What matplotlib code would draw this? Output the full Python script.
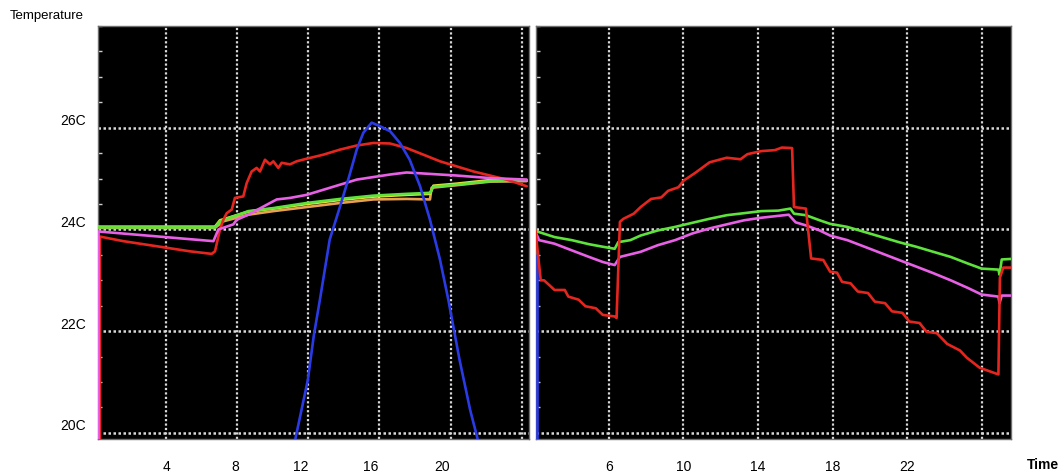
import matplotlib
matplotlib.use("Agg")
import matplotlib.pyplot as plt
from matplotlib.ticker import MultipleLocator
from matplotlib.transforms import ScaledTranslation

plt.rcParams['font.family'] = ['Liberation Sans', 'DejaVu Sans']

# --- left panel (first day), hours / degrees C ---
d1_red_h = [0.28, 0.28, 1.59, 3.47, 5.34, 6.56, 6.75, 7.03, 7.22, 7.41, 7.69, 7.87, 8.34,
            8.53, 8.81, 9.09, 9.28, 9.56, 9.84, 10.03, 10.31, 10.5, 10.97, 11.34, 11.9,
            12.84, 13.78, 14.72, 15.65, 16.59, 17.53, 18.47, 19.4, 20.34, 21.28, 22.22,
            23.15, 24.28]
d1_red_v = [19.5, 23.86, 23.77, 23.67, 23.57, 23.52, 23.57, 24.0, 24.19, 24.32, 24.39, 24.62,
            24.65, 24.91, 25.14, 25.21, 25.14, 25.37, 25.28, 25.34, 25.21, 25.31, 25.28,
            25.34, 25.39, 25.47, 25.57, 25.65, 25.70, 25.69, 25.6, 25.47, 25.34, 25.24,
            25.14, 25.06, 24.98, 24.85]

d1_pink_h = [0.2, 0.2, 6.66, 6.94, 7.78, 7.97, 8.62, 9.47, 10.22, 10.97, 11.9, 12.84, 13.78,
             14.72, 15.65, 16.59, 17.53, 18.47, 20.34, 22.22, 24.28]
d1_pink_v = [19.5, 23.96, 23.77, 24.0, 24.1, 24.19, 24.29, 24.45, 24.59, 24.62, 24.68, 24.78,
             24.88, 24.98, 25.03, 25.08, 25.12, 25.1, 25.06, 25.01, 24.98]

d1_green_h = [0.19, 6.75, 7.03, 8.62, 10.03, 11.9, 13.78, 15.65, 17.53, 18.84, 19.03, 20.34,
              22.22, 24.28]
d1_green_v = [24.04, 24.04, 24.16, 24.36, 24.42, 24.52, 24.6, 24.665, 24.7, 24.72, 24.84,
              24.88, 24.95, 24.96]

d1_yellow_h = [0.19, 6.75, 7.03, 8.62, 10.03, 11.9, 13.78, 15.65, 17.53, 18.84, 19.03, 20.34,
               22.22, 24.28]
d1_yellow_v = [24.055, 24.055, 24.18, 24.35, 24.41, 24.5, 24.58, 24.645, 24.68, 24.70, 24.86,
               24.9, 24.97, 24.97]

d1_orange_h = [0.19, 6.75, 7.22, 8.62, 10.03, 11.9, 13.78, 15.65, 17.53, 18.84, 18.93, 20.34,
               22.22, 24.28]
d1_orange_v = [24.03, 24.03, 24.16, 24.29, 24.36, 24.44, 24.52, 24.59, 24.6, 24.59, 24.82,
               24.87, 24.94, 24.95]

d1_blue_h = [11.1, 11.25, 11.97, 12.3, 12.65, 13.2, 13.78, 14.3, 14.72, 15.09, 15.56, 16.03,
             16.6, 17.15, 17.7, 18.28, 18.84, 19.4, 19.87, 20.5, 21.1, 21.54, 21.7]
d1_blue_v = [19.5, 19.85, 21.04, 21.9, 22.62, 23.8, 24.45, 25.05, 25.57, 25.9, 26.1, 26.03,
             25.93, 25.7, 25.37, 24.85, 24.19, 23.41, 22.62, 21.44, 20.45, 19.85, 19.5]

# --- right panel (second day) ---
d2_red_h = [2.06, 2.34, 2.52, 3.08, 3.63, 3.82, 4.37, 4.74, 5.3, 5.67, 6.3, 6.41, 6.59, 6.78,
            7.33, 7.7, 8.26, 8.81, 9.18, 9.73, 10.01, 10.66, 11.4, 12.32, 13.06, 13.43,
            14.17, 14.91, 15.28, 15.83, 15.93, 16.57, 16.85, 17.5, 17.87, 18.24, 18.51,
            18.97, 19.35, 19.9, 20.27, 20.82, 21.19, 21.75, 22.12, 22.67, 23.04, 23.6,
            24.15, 24.84, 25.2, 25.9, 26.9, 26.98, 27.16, 27.56]
d2_red_v = [23.98, 23.0, 23.0, 22.81, 22.81, 22.68, 22.62, 22.49, 22.45, 22.32, 22.29, 22.26,
            24.15, 24.21, 24.31, 24.44, 24.6, 24.63, 24.76, 24.83, 24.96, 25.12, 25.32,
            25.41, 25.38, 25.48, 25.54, 25.56, 25.61, 25.6, 24.44, 24.41, 23.43, 23.4,
            23.17, 23.15, 22.97, 22.94, 22.78, 22.75, 22.58, 22.55, 22.39, 22.36, 22.19,
            22.16, 21.99, 21.96, 21.75, 21.62, 21.48, 21.28, 21.15, 23.05, 23.25, 23.25]

d2_green_h = [2.06, 3.08, 4.0, 4.93, 5.67, 6.31, 6.5, 7.15, 7.7, 8.62, 9.55, 10.47, 11.4,
              12.32, 13.25, 14.17, 15.09, 15.74, 15.93, 16.57, 17.31, 17.87, 18.79, 19.72,
              20.64, 21.56, 22.49, 23.41, 24.34, 25.26, 26.0, 26.9, 26.96, 27.08, 27.56]
d2_green_v = [23.97, 23.85, 23.79, 23.71, 23.66, 23.62, 23.75, 23.79, 23.88, 23.98, 24.05,
              24.13, 24.21, 24.28, 24.32, 24.36, 24.37, 24.41, 24.31, 24.28, 24.18, 24.11,
              24.05, 23.95, 23.85, 23.75, 23.66, 23.56, 23.46, 23.33, 23.23, 23.21, 23.11,
              23.41, 23.42]

d2_pink_h = [2.06, 2.25, 3.08, 4.0, 4.93, 5.67, 6.31, 6.59, 7.7, 8.62, 9.55, 10.47, 11.4,
             12.32, 13.25, 14.17, 15.65, 16.02, 16.57, 17.31, 17.87, 18.79, 19.72, 20.64,
             21.56, 22.49, 23.41, 24.34, 25.26, 26.0, 26.9, 26.96, 27.08, 27.56]
d2_pink_v = [23.95, 23.79, 23.72, 23.59, 23.46, 23.36, 23.3, 23.46, 23.56, 23.69, 23.79,
             23.92, 24.02, 24.1, 24.18, 24.23, 24.29, 24.14, 24.08, 23.98, 23.88, 23.79,
             23.66, 23.53, 23.4, 23.27, 23.14, 23.0, 22.85, 22.72, 22.68, 22.55, 22.7, 22.7]

d2_blue_h = [2.12, 2.12]
d2_blue_v = [23.5, 19.5]

y_labels = ['20C', '22C', '24C', '26C']
y_ticks = [20, 22, 24, 26]
d1_ticks = [4, 8, 12, 16, 20]
d2_ticks = [6, 10, 14, 18, 22]

RED = '#e5261f'
PINK = '#e860e6'
GREEN = '#5ee23c'
YELLOW = '#e6e33a'
ORANGE = '#e8a052'
BLUE = '#2a3be6'
GRID = '#d9d9d9'


def style_panel(ax, xlim, grid_x):
    ax.set_facecolor('black')
    ax.set_xlim(*xlim)
    ax.set_ylim(19.88, 28.0)
    for x in grid_x:
        ax.axvline(x, color=GRID, lw=1.6, ls=(0, (1, 1)), zorder=1)
    for y in y_ticks:
        ax.axhline(y, color=GRID, lw=1.8, ls=(0, (1, 1)), zorder=1)
    for s in ax.spines.values():
        s.set_color('#6e6e6e')
        s.set_linewidth(1.0)
    ax.yaxis.set_minor_locator(MultipleLocator(0.5))
    ax.tick_params(which='major', length=0)
    ax.tick_params(axis='y', which='minor', direction='in', length=3, width=1,
                   color='#cfcfcf')
    ax.tick_params(axis='x', which='major', pad=15, labelsize=10)


def draw(ax, h, v, color, z):
    ax.plot(h, v, color=color, lw=1.9, zorder=z, solid_joinstyle='round',
            solid_capstyle='round')


fig = plt.figure(figsize=(10.61, 4.73), dpi=100)
ax1 = fig.add_axes([0.09237, 0.07188, 0.40575, 0.87315])
ax2 = fig.add_axes([0.50490, 0.07188, 0.44769, 0.87315])

style_panel(ax1, (0.17, 24.38), [4, 8, 12, 16, 20, 24])
style_panel(ax2, (2.07, 27.56), [6, 10, 14, 18, 22, 26])

# left panel
draw(ax1, d1_orange_h, d1_orange_v, ORANGE, 3)
draw(ax1, d1_yellow_h, d1_yellow_v, YELLOW, 4)
draw(ax1, d1_green_h, d1_green_v, GREEN, 5)
draw(ax1, d1_red_h, d1_red_v, RED, 6)
draw(ax1, d1_pink_h, d1_pink_v, PINK, 7)
draw(ax1, d1_blue_h, d1_blue_v, BLUE, 8)

# right panel
draw(ax2, d2_blue_h, d2_blue_v, BLUE, 3)
draw(ax2, d2_green_h, d2_green_v, GREEN, 5)
draw(ax2, d2_pink_h, d2_pink_v, PINK, 6)
draw(ax2, d2_red_h, d2_red_v, RED, 7)

# axis labels
ax1.set_yticks(y_ticks)
ax1.set_yticklabels(y_labels, fontsize=10)
ax1.tick_params(axis='y', which='major', pad=9)
for lab in ax1.get_yticklabels():
    lab.set_transform(lab.get_transform() + ScaledTranslation(0, 0.08, fig.dpi_scale_trans))

ax1.set_xticks(d1_ticks)
ax1.set_xticklabels([str(t) for t in d1_ticks])
shifts = [0, -1.5, -7.5, -8.5, -9]
for lab, dx in zip(ax1.get_xticklabels(), shifts):
    lab.set_transform(lab.get_transform() + ScaledTranslation(dx / 100, 0, fig.dpi_scale_trans))

ax2.set_yticks(y_ticks)
ax2.set_yticklabels([])
ax2.set_xticks(d2_ticks)
ax2.set_xticklabels([str(t) for t in d2_ticks])

fig.text(10 / 1061, 1 - 16 / 473, 'Temperature', fontsize=9.5, ha='left', va='center')
fig.text(1043 / 1061, 1 - 465 / 473, 'Time', fontsize=10, fontweight='bold',
         ha='center', va='center')

fig.savefig('out.png', dpi=100)
